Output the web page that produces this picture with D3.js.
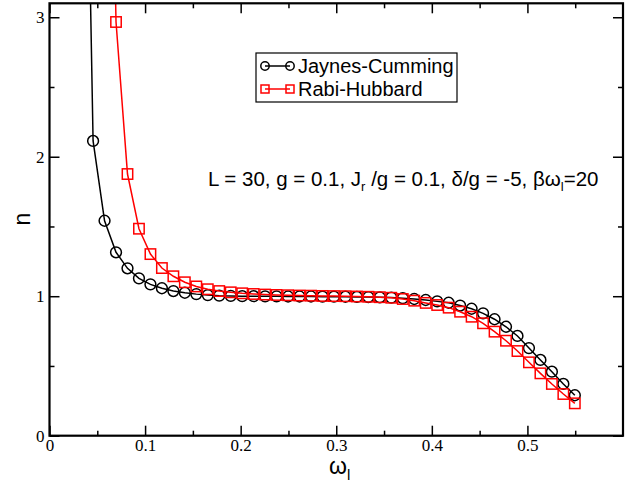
<!DOCTYPE html>
<html>
<head>
<meta charset="utf-8">
<script src="https://cdn.jsdelivr.net/npm/d3@7"></script>
<style>
  body { margin: 0; background: #fff; }
  .tick text { font-family: "Liberation Serif", "Times New Roman", serif; font-size: 17px; fill: #000; }
  .tick line { stroke: #000; stroke-width: 1.5; }
  .domain { display: none; }
</style>
</head>
<body>
<div id="chart"></div>
<script>
// omega_l grid
var omega = [0.0336, 0.0456, 0.0576, 0.0696, 0.0816, 0.0936, 0.1056, 0.1176, 0.1296, 0.1416,
             0.1536, 0.1656, 0.1776, 0.1896, 0.2016, 0.2136, 0.2256, 0.2376, 0.2496, 0.2616,
             0.2736, 0.2856, 0.2976, 0.3096, 0.3216, 0.3336, 0.3456, 0.3576, 0.3696, 0.3816,
             0.3936, 0.4056, 0.4176, 0.4296, 0.4416, 0.4536, 0.4656, 0.4776, 0.4896, 0.5016,
             0.5136, 0.5256, 0.5376, 0.5496];

// Jaynes-Cumming (first value is off the top of the plot)
var jcValues = [6.6, 2.113, 1.541, 1.315, 1.200, 1.128, 1.085, 1.057, 1.037, 1.025,
                1.015, 1.008, 1.004, 1.002, 1.000, 1.000, 0.999, 0.999, 0.998, 0.998,
                0.998, 0.997, 0.997, 0.996, 0.995, 0.994, 0.992, 0.990, 0.986, 0.980,
                0.973, 0.963, 0.953, 0.933, 0.910, 0.877, 0.835, 0.781, 0.715, 0.628,
                0.543, 0.459, 0.371, 0.290];

// Rabi-Hubbard, starts two grid points later (first value off the top)
var rhOmega = omega.slice(2);
var rhValues = [7.0, 2.966, 1.876, 1.484, 1.302, 1.202, 1.143, 1.100, 1.070, 1.050,
                1.037, 1.028, 1.021, 1.016, 1.012, 1.009, 1.007, 1.005, 1.004, 1.002,
                1.001, 1.000, 0.998, 0.996, 0.993, 0.989, 0.980, 0.968, 0.952, 0.937,
                0.918, 0.889, 0.853, 0.806, 0.746, 0.681, 0.607, 0.526, 0.447, 0.371,
                0.299, 0.232];

var xMajor = [0, 0.1, 0.2, 0.3, 0.4, 0.5];
var xMinor = [0.05, 0.15, 0.25, 0.35, 0.45, 0.55];
var yMajor = [0, 1, 2, 3];
var yMinor = [0.5, 1.5, 2.5];

var series = [
    {name: "Jaynes-Cumming", color: "#000", symbol: "circle",
     data: omega.map(function(x, i) { return [x, jcValues[i]]; })},
    {name: "Rabi-Hubbard", color: "#ff0000", symbol: "square",
     data: rhOmega.map(function(x, i) { return [x, rhValues[i]]; })}
];

var width = 644,
    height = 489,
    margin = {top: 3.3, right: 21, bottom: 53.3, left: 49.5};

var xScale = d3.scaleLinear().domain([0, 0.6]).range([margin.left, width - margin.right]);
var yScale = d3.scaleLinear().domain([0, 3.1]).range([height - margin.bottom, margin.top]);

var svg = d3.select("#chart").append("svg")
    .attr("width", width)
    .attr("height", height);

svg.append("defs").append("clipPath").attr("id", "plot-clip")
    .append("rect")
    .attr("x", xScale(0)).attr("y", yScale(3.1))
    .attr("width", xScale(0.6) - xScale(0))
    .attr("height", yScale(0) - yScale(3.1));

var x0 = xScale(0), x1 = xScale(0.6), y0 = yScale(0), y1 = yScale(3.1);

// inward ticks on all four sides
function addAxis(axisFn, scale, values, size, labels, tx, ty) {
    var a = axisFn(scale).tickValues(values).tickSizeInner(-size).tickSizeOuter(0).tickPadding(5);
    if (!labels) a.tickFormat("");
    else a.tickFormat(d3.format("~g"));
    svg.append("g").attr("transform", "translate(" + tx + "," + ty + ")").call(a);
}
addAxis(d3.axisBottom, xScale, xMajor, 10, true, 0, y0);
addAxis(d3.axisBottom, xScale, xMinor, 5, false, 0, y0);
addAxis(d3.axisTop, xScale, xMajor, 10, false, 0, y1);
addAxis(d3.axisTop, xScale, xMinor, 5, false, 0, y1);
addAxis(d3.axisLeft, yScale, yMajor, 10, true, x0, 0);
addAxis(d3.axisLeft, yScale, yMinor, 5, false, x0, 0);
addAxis(d3.axisRight, yScale, yMajor, 10, false, x1, 0);
addAxis(d3.axisRight, yScale, yMinor, 5, false, x1, 0);

svg.selectAll(".tick text").attr("dy", function() {
    return d3.select(this.parentNode.parentNode).attr("transform") === "translate(0," + y0 + ")" ? "0.62em" : "0.32em";
});

var line = d3.line()
    .x(function(d) { return xScale(d[0]); })
    .y(function(d) { return yScale(d[1]); });

var plot = svg.append("g").attr("clip-path", "url(#plot-clip)");

series.forEach(function(s) {
    plot.append("path")
        .datum(s.data)
        .attr("fill", "none")
        .attr("stroke", s.color)
        .attr("stroke-width", 1.5)
        .attr("d", line);

    var pts = s.data.filter(function(d) { return d[1] <= 3.1; });
    if (s.symbol === "circle") {
        plot.selectAll(null).data(pts).enter().append("circle")
            .attr("cx", function(d) { return xScale(d[0]); })
            .attr("cy", function(d) { return yScale(d[1]); })
            .attr("r", 5.4)
            .attr("fill", "none")
            .attr("stroke", s.color)
            .attr("stroke-width", 1.5);
    } else {
        plot.selectAll(null).data(pts).enter().append("rect")
            .attr("x", function(d) { return xScale(d[0]) - 5.2; })
            .attr("y", function(d) { return yScale(d[1]) - 5.2; })
            .attr("width", 10.4)
            .attr("height", 10.4)
            .attr("fill", "none")
            .attr("stroke", s.color)
            .attr("stroke-width", 1.5);
    }
});

// frame
svg.append("rect")
    .attr("x", x0).attr("y", y1)
    .attr("width", x1 - x0).attr("height", y0 - y1)
    .attr("fill", "none")
    .attr("stroke", "#000")
    .attr("stroke-width", 2.2);

// legend
var legend = svg.append("g").attr("transform", "translate(256,53)");
legend.append("rect")
    .attr("width", 201).attr("height", 49)
    .attr("fill", "none").attr("stroke", "#000").attr("stroke-width", 1.2);

series.forEach(function(s, i) {
    var ly = 13 + i * 23;
    var g = legend.append("g");
    g.append("line")
        .attr("x1", 9).attr("x2", 34).attr("y1", ly).attr("y2", ly)
        .attr("stroke", s.color).attr("stroke-width", 1.5);
    [9, 34].forEach(function(cx) {
        if (s.symbol === "circle") {
            g.append("circle").attr("cx", cx).attr("cy", ly).attr("r", 4.2)
                .attr("fill", "none").attr("stroke", s.color).attr("stroke-width", 1.5);
        } else {
            g.append("rect").attr("x", cx - 4).attr("y", ly - 4).attr("width", 8).attr("height", 8)
                .attr("fill", "none").attr("stroke", s.color).attr("stroke-width", 1.5);
        }
    });
    g.append("text")
        .attr("x", 42).attr("y", ly + 7)
        .style("font-family", "'Liberation Sans', Arial, sans-serif")
        .style("font-size", "20px")
        .text(s.name);
});

// parameter annotation
var note = svg.append("text")
    .attr("x", 208).attr("y", 186)
    .style("font-family", "'Liberation Sans', Arial, sans-serif")
    .style("font-size", "20.5px");
note.append("tspan").text("L = 30, g = 0.1, J");
note.append("tspan").attr("dy", 5).style("font-size", "13px").text("r");
note.append("tspan").attr("dy", -5).text(" /g = 0.1, \u03b4/g = -5, \u03b2\u03c9");
note.append("tspan").attr("dy", 5).style("font-size", "13px").text("l");
note.append("tspan").attr("dy", -5).text("=20");

// axis titles
svg.append("text")
    .attr("transform", "translate(30,219) rotate(-90)")
    .attr("text-anchor", "middle")
    .style("font-family", "'Liberation Sans', Arial, sans-serif")
    .style("font-size", "23px")
    .text("n");

var xt = svg.append("text")
    .attr("x", 329).attr("y", 474)
    .style("font-family", "'Liberation Sans', Arial, sans-serif")
    .style("font-size", "23px");
xt.append("tspan").text("\u03c9");
xt.append("tspan").attr("dy", 6).style("font-size", "15px").text("l");
</script>
</body>
</html>
